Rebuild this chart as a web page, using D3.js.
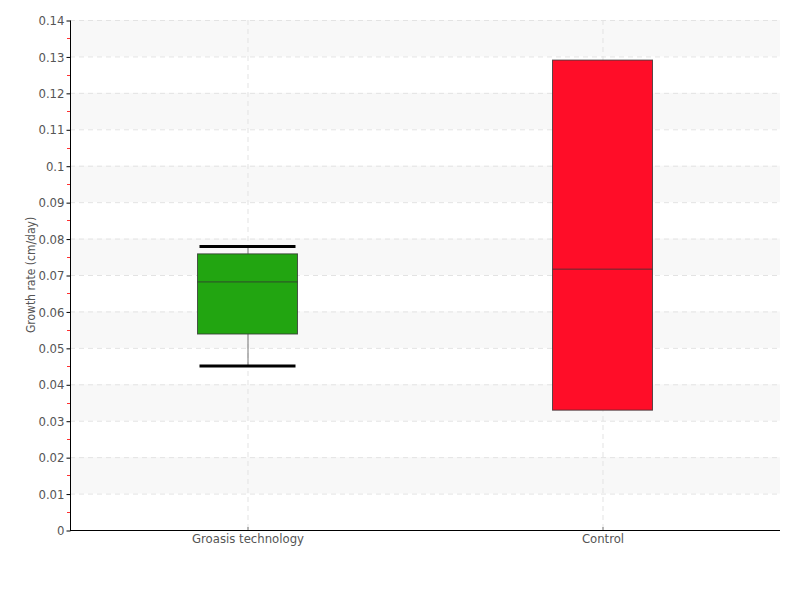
<!DOCTYPE html>
<html>
<head>
<meta charset="utf-8">
<script src="https://cdn.jsdelivr.net/npm/d3@7"></script>
<style>
  body { margin: 0; background: #fff; }
  text { font-family: "DejaVu Sans Condensed", "DejaVu Sans", sans-serif; font-stretch: condensed; fill: #555; }
</style>
</head>
<body>
<div id="container"></div>
<script>
// data
const categories = ["Groasis technology", "Control"];
const whiskerLow = [0.0450, 0.0329];
const q1 = [0.0538, 0.0329];
const median = [0.0681, 0.0716];
const q3 = [0.0758, 0.1290];
const whiskerHigh = [0.0778, 0.1290];
const boxColors = ["#22a511", "#ff0d28"];
const yTicks = [0, 0.01, 0.02, 0.03, 0.04, 0.05, 0.06, 0.07, 0.08, 0.09, 0.1, 0.11, 0.12, 0.13, 0.14];
const yTickLabels = ["0", "0.01", "0.02", "0.03", "0.04", "0.05", "0.06", "0.07", "0.08", "0.09", "0.1", "0.11", "0.12", "0.13", "0.14"];

const WIDTH = 800;
const HEIGHT = 600;
const LEFT = 70, RIGHT = 780, TOP = 20, BOTTOM = 530;
const BOX_WIDTH = 100;

const svg = d3.select("#container")
    .append("svg")
    .attr("width", WIDTH)
    .attr("height", HEIGHT);

const xScale = d3.scalePoint()
    .domain(categories)
    .range([LEFT, RIGHT])
    .padding(0.5);

const yScale = d3.scaleLinear()
    .domain([0, 0.14])
    .range([BOTTOM, TOP]);

// alternating bands
const bands = yTicks.slice(0, -1).map((t, i) => [t, yTicks[i + 1]]).filter((d, i) => i % 2 === 1);
svg.append("g").selectAll("rect")
    .data(bands)
    .enter()
    .append("rect")
    .attr("x", LEFT)
    .attr("width", RIGHT - LEFT)
    .attr("y", (d) => yScale(d[1]))
    .attr("height", (d) => yScale(d[0]) - yScale(d[1]))
    .attr("fill", "#f8f8f8");

// grid
svg.append("g").selectAll("line")
    .data(yTicks.slice(1))
    .enter()
    .append("line")
    .attr("x1", LEFT).attr("x2", RIGHT)
    .attr("y1", (d) => yScale(d) + 0.5).attr("y2", (d) => yScale(d) + 0.5)
    .attr("stroke", "#e3e3e3")
    .attr("stroke-dasharray", "5,4");

svg.append("g").selectAll("line")
    .data(categories)
    .enter()
    .append("line")
    .attr("x1", (d) => xScale(d) + 0.5).attr("x2", (d) => xScale(d) + 0.5)
    .attr("y1", TOP).attr("y2", BOTTOM)
    .attr("stroke", "#e3e3e3")
    .attr("stroke-dasharray", "5,4");

// minor ticks in red
const minor = yTicks.slice(0, -1).map((t) => t + 0.005);
svg.append("g").selectAll("line")
    .data(minor)
    .enter()
    .append("line")
    .attr("x1", LEFT - 3).attr("x2", LEFT)
    .attr("y1", (d) => Math.round(yScale(d)) + 0.5).attr("y2", (d) => Math.round(yScale(d)) + 0.5)
    .attr("stroke", "#ff3030");

// y axis
const leftAxis = d3.axisLeft(yScale)
    .tickValues(yTicks)
    .tickFormat((d, i) => yTickLabels[i])
    .tickSize(4)
    .tickPadding(2);

const yAxisG = svg.append("g")
    .attr("transform", "translate(" + (LEFT + 0.5) + ",0.5)")
    .call(leftAxis);
yAxisG.select(".domain").attr("d", "M0," + TOP + "V" + BOTTOM).attr("stroke", "#000");
yAxisG.selectAll(".tick line").attr("stroke", "#000");
yAxisG.selectAll(".tick text").style("font-size", "13px").attr("fill", "#555");

// x axis
const xAxisG = svg.append("g")
    .attr("transform", "translate(0," + (BOTTOM + 0.5) + ")")
    .call(d3.axisBottom(xScale).tickSize(0).tickPadding(3));
xAxisG.select(".domain").attr("d", "M" + LEFT + ",0H" + RIGHT).attr("stroke", "#000");
xAxisG.selectAll(".tick text").style("font-size", "13px").attr("fill", "#555");
svg.append("g").selectAll("line")
    .data(categories)
    .enter()
    .append("line")
    .attr("x1", (d) => xScale(d) + 0.5).attr("x2", (d) => xScale(d) + 0.5)
    .attr("y1", BOTTOM - 3).attr("y2", BOTTOM)
    .attr("stroke", "#777");

// y label
svg.append("text")
    .attr("transform", "translate(35," + ((TOP + BOTTOM) / 2) + ") rotate(-90)")
    .attr("text-anchor", "middle")
    .style("font-size", "12px")
    .text("Growth rate (cm/day)");

// boxes
const boxes = svg.append("g");
categories.forEach((c, i) => {
    const cx = xScale(c);
    // whisker stems
    if (whiskerHigh[i] > q3[i]) {
        boxes.append("line")
            .attr("x1", cx + 0.5).attr("x2", cx + 0.5)
            .attr("y1", yScale(whiskerHigh[i])).attr("y2", yScale(q3[i]))
            .attr("stroke", "#777");
    }
    if (whiskerLow[i] < q1[i]) {
        boxes.append("line")
            .attr("x1", cx + 0.5).attr("x2", cx + 0.5)
            .attr("y1", yScale(q1[i])).attr("y2", yScale(whiskerLow[i]))
            .attr("stroke", "#777");
    }
    boxes.append("rect")
        .attr("x", cx - BOX_WIDTH / 2)
        .attr("width", BOX_WIDTH)
        .attr("y", yScale(q3[i]))
        .attr("height", yScale(q1[i]) - yScale(q3[i]))
        .attr("fill", boxColors[i])
        .attr("stroke", "#333")
        .attr("stroke-opacity", 0.8);
    boxes.append("line")
        .attr("x1", cx - BOX_WIDTH / 2).attr("x2", cx + BOX_WIDTH / 2)
        .attr("y1", yScale(median[i])).attr("y2", yScale(median[i]))
        .attr("stroke", "#333")
        .attr("stroke-opacity", 0.8);
    // caps
    [whiskerHigh[i] > q3[i] ? whiskerHigh[i] : null, whiskerLow[i] < q1[i] ? whiskerLow[i] : null]
        .filter((v) => v !== null)
        .forEach((v) => {
            boxes.append("line")
                .attr("x1", cx - 48).attr("x2", cx + 48)
                .attr("y1", yScale(v)).attr("y2", yScale(v))
                .attr("stroke", "#000")
                .attr("stroke-width", 3);
        });
});
</script>
</body>
</html>
